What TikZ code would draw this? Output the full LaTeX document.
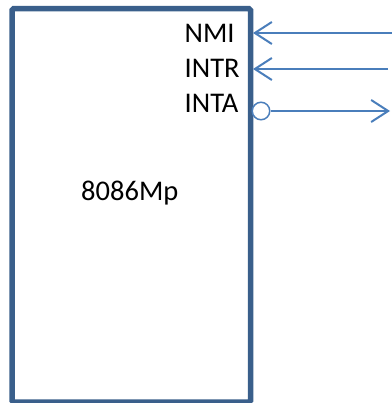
\documentclass[tikz,border=0pt]{standalone}
\usepackage{fontspec}
\setmainfont{Carlito}
\usetikzlibrary{arrows.meta}
\definecolor{boxblue}{HTML}{3A5F8B}
\definecolor{arrblue}{HTML}{4A7EBB}
\begin{document}
\begin{tikzpicture}[x=1pt,y=-1pt,
  lbl/.style={anchor=base west,inner sep=0pt,font=\fontsize{28.5}{30}\selectfont},
  sig/.style={draw=arrblue,line width=2pt,-{Straight Barb[length=17pt,width=22pt,line width=2pt]}}]
\useasboundingbox (0,0) rectangle (391,403);
\draw[boxblue,line width=5.5pt,rounded corners=1.5pt] (12,8.7) rectangle (250.5,402);
\node[lbl] (nmi) at (184.5,43) {NMI};
\node[lbl] (intr) at (184.5,78) {INTR};
\node[lbl] (inta) at (184.5,113) {INTA};
\node[lbl] (cpu) at (81,200) {8086Mp};
\coordinate (nmiE) at (392,33);
\coordinate (nmiW) at (253,33);
\coordinate (intrE) at (388,69);
\coordinate (intrW) at (253,69);
\node[draw=arrblue,fill=white,circle,line width=1.5pt,minimum size=17.5pt,inner sep=0pt] (bub) at (261,111) {};
\coordinate (intaE) at (390,111);
\draw[sig] (nmiE) -- (nmiW);
\draw[sig] (intrE) -- (intrW);
\draw[sig] (bub.east) -- (intaE);
\end{tikzpicture}
\end{document}
